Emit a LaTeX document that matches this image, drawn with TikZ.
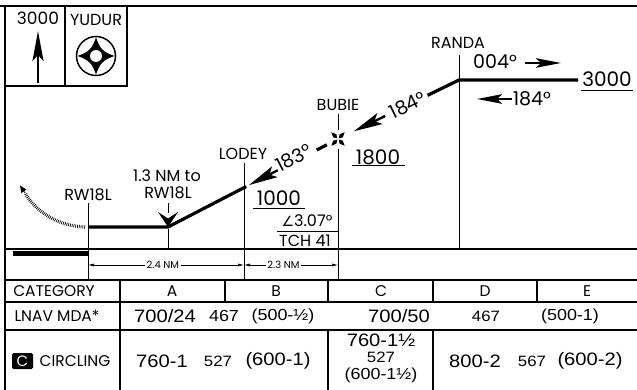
\documentclass[tikz,border=0pt]{standalone}
\usepackage{fontspec}
\setmainfont{Poppins}
\newfontfamily\numfont[FakeStretch=1.12]{Liberation Sans}
\newfontfamily\symfont{DejaVu Sans}
\usetikzlibrary{arrows.meta,calc}
\tikzset{
  frame/.style={line width=1.8pt},
  boxline/.style={line width=1.5pt},
  hair/.style={line width=1pt},
  track/.style={line width=3.2pt},
  lbl/.style={inner sep=0pt, font=\fontsize{16}{16}\selectfont},
  alt/.style={inner sep=0pt, font=\fontsize{20}{20}\selectfont},
  crs/.style={inner sep=0pt, font=\fontsize{19}{19}\selectfont},
  cat/.style={inner sep=0pt, font=\fontsize{15.5}{15.5}\selectfont},
  numA/.style={inner sep=0pt, font=\numfont\fontsize{18}{18}\selectfont},
  numB/.style={inner sep=0pt, font=\numfont\fontsize{15}{15}\selectfont},
  numC/.style={inner sep=0pt, font=\numfont\fontsize{16}{16}\selectfont},
  dist/.style={inner sep=1.5pt, fill=white, font=\fontsize{10}{10}\selectfont},
  bighead/.style={-{Stealth[length=29pt,width=12pt,inset=6pt]}, line width=2.4pt},
  crshead/.style={-{Stealth[length=25pt,width=9.5pt,inset=5pt]}, line width=2.2pt},
  disthead/.style={{Latex[length=6pt,width=3pt]}-{Latex[length=6pt,width=3pt]}, line width=0.6pt},
  fixarm/.style={fill=black},
}
\begin{document}
\begin{tikzpicture}[x=1pt,y=-1pt]
\useasboundingbox (0,0) rectangle (637,390);
% outer frame
\draw[frame] (0,6) -- (637,6);
\draw[frame] (5,6) -- (5,390);
% top-left boxes
\draw[boxline] (5,86) -- (127,86) -- (127,6);
\draw[boxline] (65,6) -- (65,86);
\node[inner sep=0pt, font=\fontsize{17}{17}\selectfont] (msa) at (38,18) {3000};
\coordinate (nb) at (38,83);
\coordinate (nt) at (38,31);
\draw[line width=2.6pt, -{Stealth[length=30pt,width=11pt,inset=6pt]}] (nb) -- (nt);
\node[lbl] (yudur) at (96,20) {YUDUR};
\coordinate (ys) at (96,56);
\draw[line width=1.5pt] (ys) circle[radius=19.5pt];
\fill (96,37.5) .. controls (100,49) and (103,52) .. (114.5,56)
      .. controls (103,60) and (100,63) .. (96,74.5)
      .. controls (92,63) and (89,60) .. (77.5,56)
      .. controls (89,52) and (92,49) .. (96,37.5) -- cycle;
\fill[white] (ys) circle[radius=6pt];

% profile fixes
\coordinate (rw) at (88,227);
\coordinate (map) at (168,227);
\coordinate (bubie) at (338,139);
\coordinate (randa) at (459,80);
\coordinate (fend) at (578,80);
\coordinate (lt) at ($(map)!0.476!(bubie)$);
\coordinate (lt0) at ($(map)!0.46!(bubie)$);
\coordinate (l183) at ($(map)!0.645!(bubie)$);
\coordinate (d1) at ($(map)!0.875!(bubie)$);
\coordinate (d2) at ($(map)!0.935!(bubie)$);
\coordinate (b1) at ($(bubie)!0.13!(randa)$);
\coordinate (b2) at ($(bubie)!0.39!(randa)$);
\coordinate (b3) at ($(bubie)!0.74!(randa)$);

\draw[track] (rw) -- (map) -- (lt0);
\draw[bighead] (l183) -- (lt);
\node[crs, rotate=27.4] (t183) at ($(map)!0.74!(bubie)+(0,-4)$) {183°};
\draw[line width=3.2pt] (d1) -- (d2);
\draw[bighead] (b2) -- (b1);
\node[crs, rotate=26] (t184) at ($(bubie)!0.575!(randa)+(0,0)$) {184°};
\draw[track] (b3) -- (randa) -- (fend);
% fix symbol
\foreach \a in {45,135,225,315}
  \fill[fixarm, shift={(bubie)}, rotate=\a] (1,0) -- (4.5,2.2) -- (9.5,0) -- (4.5,-2.2) -- cycle;

% RANDA
\node[lbl] (randaL) at (458,43) {RANDA};
\draw[hair] (459,55) -- (459,249);
\node[crs] (c004) at (495,62) {004°};
\coordinate (c004a) at (525,63);
\coordinate (c004b) at (561,63);
\draw[crshead] (c004a) -- (c004b);
\node[crs] (c184) at (532,99) {184°};
\coordinate (c184a) at (512,99);
\coordinate (c184b) at (477,99);
\draw[crshead] (c184a) -- (c184b);
\node[alt] (a3000) at (607,79) {3000};
\draw[hair] (581,91) -- (633,91);

% BUBIE
\node[lbl] (bubieL) at (338,105) {BUBIE};
\draw[hair] (338,114) -- (338,130);
\draw[hair] (338,149) -- (338,280);
\node[alt] (a1800) at (378,157) {1800};
\draw[hair] (352,166) -- (405,166);

% LODEY
\node[lbl] (lodeyL) at (243,154) {LODEY};
\draw[hair] (244,163) -- (244,280);
\node[alt] (a1000) at (279,198) {1000};
\draw[hair] (253,209) -- (305,209);
\node[lbl] (gpa) at (307,221) {{\symfont\fontsize{14}{14}\selectfont ∠}3.07°};
\draw[hair] (277,231) -- (339,231);
\node[lbl] (tch) at (305,241) {TCH 41};

% runway / MAP
\node[lbl] (rwL) at (88,195) {RW18L};
\draw[hair] (88,203) -- (88,280);
\node[lbl] (mapL1) at (167,176) {1.3 NM to};
\node[lbl] (mapL2) at (168,193) {RW18L};
\draw[hair] (168,203) -- (168,213);
\draw[hair] (168,229) -- (168,249);
\fill (158,212) -- (168,227) -- (178,212) -- (168,218.5) -- cycle;
\coordinate (ma0) at (85,227);
\coordinate (ma1) at (25,193);
\coordinate (ma2) at (20,185.5);
\draw[line width=3.2pt, dash pattern=on 0.7pt off 1.1pt] (ma0) .. controls (58,226) and (36,212) .. (ma1);
\draw[line width=0.8pt, -{Triangle[length=7pt,width=6pt]}] (ma1) -- (ma2);

% distance strip
\draw[boxline] (5,249) -- (637,249);
\fill (13,251) rectangle (88,256);
\coordinate (s1) at (88,265);
\coordinate (s2) at (244,265);
\coordinate (s3) at (338,265);
\draw[disthead] (s1) -- node[dist, pos=0.48] {2.4 NM} (s2);
\draw[disthead] (s2) -- node[dist, pos=0.42] {2.3 NM} (s3);

% table
\draw[frame] (5,280) -- (637,280);
\draw[frame] (5,302) -- (637,302);
\draw[frame] (5,330) -- (637,330);
\draw[frame] (120,280) -- (120,390);
\draw[frame] (225,280) -- (225,302);
\draw[frame] (328,280) -- (328,302);
\draw[frame] (433,280) -- (433,302);
\draw[frame] (537,280) -- (537,302);
\draw[frame] (328,330) -- (328,390);
\draw[frame] (433,330) -- (433,390);

\node[cat] (hcat) at (54,291) {CATEGORY};
\node[cat] (hA) at (172,291) {A};
\node[cat] (hB) at (276,291) {B};
\node[cat] (hC) at (381,291) {C};
\node[cat] (hD) at (485,291) {D};
\node[cat] (hE) at (587,291) {E};

\node[cat] (lnav) at (57,316) {LNAV MDA*};
\node[numA] (l1) at (165,316) {700/24};
\node[numC] (l2) at (224,316) {467};
\node[numC] (l3) at (283,316) {(500-½)};
\node[numA] (l4) at (399,316) {700/50};
\node[numB] (l5) at (486,316) {467};
\node[numC] (l6) at (570,316) {(500-1)};

\node[fill=black, text=white, rounded corners=1.5pt, minimum width=21pt, minimum height=16pt, inner sep=0pt, font=\fontsize{15}{15}\selectfont] (cbox) at (22.5,361) {C};
\node[cat] (circ) at (75,361) {CIRCLING};
\node[numA] (c1) at (162,361) {760-1};
\node[numB] (c2) at (218,361) {527};
\node[numA] (c3) at (278,361) {(600-1)};
\node[numA] (c4) at (381,340) {760-1½};
\node[numB] (c5) at (381,357) {527};
\node[numC] (c6) at (381,375) {(600-1½)};
\node[numA] (c7) at (475,361) {800-2};
\node[numB] (c8) at (532,361) {567};
\node[numA] (c9) at (590,361) {(600-2)};
\end{tikzpicture}
\end{document}
